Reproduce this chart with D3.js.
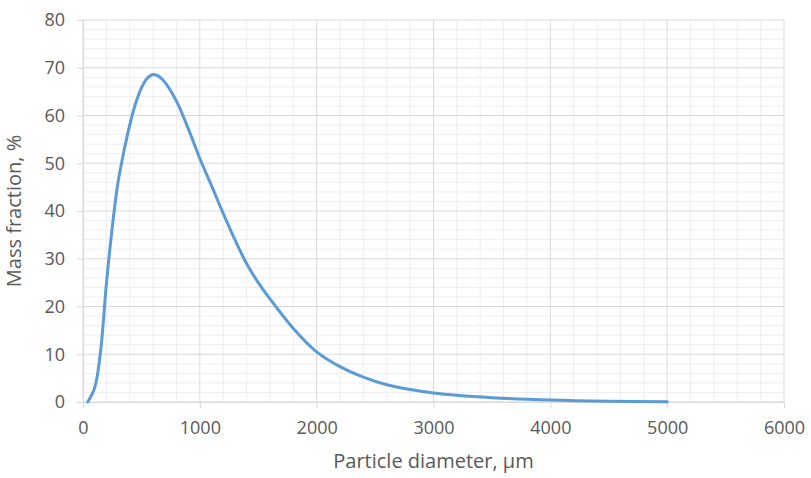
<!DOCTYPE html>
<html>
<head>
<meta charset="utf-8">
<script src="https://cdn.jsdelivr.net/npm/d3@7"></script>
<style>
  body { margin: 0; background: #fff; }
  text { font-family: "Open Sans", sans-serif; fill: #595959; }
</style>
</head>
<body>
<div id="chart"></div>
<script>
// particle size distribution
var diameter = [40, 100, 150, 200, 250, 300, 350, 400, 450, 500, 550, 600, 650, 700, 800, 900, 1000, 1100, 1200, 1300, 1400, 1500, 1600, 1800, 2000, 2200, 2400, 2600, 2800, 3000, 3200, 3500, 4000, 4500, 5000]
var massFraction = [0, 3, 10.5, 24.7, 36.5, 46, 52.5, 58, 62.5, 65.8, 67.8, 68.6, 68.2, 67, 63, 57.3, 51, 45.3, 39.5, 34, 29, 25, 21.6, 15.4, 10.5, 7.4, 5.2, 3.6, 2.6, 1.9, 1.4, 0.9, 0.4, 0.15, 0.05]
var xTicks = [0, 1000, 2000, 3000, 4000, 5000, 6000]
var yTicks = [0, 10, 20, 30, 40, 50, 60, 70, 80]

var margin = {top: 20, right: 27, bottom: 76, left: 83},
    width = 811 - margin.left - margin.right,
    height = 478 - margin.top - margin.bottom

var svg = d3.select("#chart")
  .append("svg")
    .attr("width", 811)
    .attr("height", 478)
  .append("g")
    .attr("transform", "translate(" + margin.left + "," + margin.top + ")")

var x = d3.scaleLinear().domain([0, 6000]).range([0, width])
var y = d3.scaleLinear().domain([0, 80]).range([height, 0])

// minor grid, every 200 um and every 2 %
svg.append("g")
  .selectAll("line")
  .data(d3.range(200, 6000, 200).filter(function(d){ return d % 1000 != 0 }))
  .enter().append("line")
    .attr("x1", function(d){ return x(d) }).attr("x2", function(d){ return x(d) })
    .attr("y1", 0).attr("y2", height)
    .attr("stroke", "#eeeeee")
svg.append("g")
  .selectAll("line")
  .data(d3.range(2, 80, 2).filter(function(d){ return d % 10 != 0 }))
  .enter().append("line")
    .attr("y1", function(d){ return y(d) }).attr("y2", function(d){ return y(d) })
    .attr("x1", 0).attr("x2", width)
    .attr("stroke", "#eeeeee")

// major grid
svg.append("g")
  .selectAll("line")
  .data(xTicks)
  .enter().append("line")
    .attr("x1", function(d){ return x(d) }).attr("x2", function(d){ return x(d) })
    .attr("y1", 0).attr("y2", height)
    .attr("stroke", "#d9d9d9")
svg.append("g")
  .selectAll("line")
  .data(yTicks)
  .enter().append("line")
    .attr("y1", function(d){ return y(d) }).attr("y2", function(d){ return y(d) })
    .attr("x1", 0).attr("x2", width)
    .attr("stroke", "#d9d9d9")

// axes
svg.append("g")
  .attr("transform", "translate(0," + height + ")")
  .call(d3.axisBottom(x).tickValues(xTicks).tickFormat(d3.format("d")).tickSize(6).tickPadding(13))
svg.append("g")
  .call(d3.axisLeft(y).tickValues(yTicks).tickFormat(d3.format("d")).tickSize(6).tickPadding(12))
svg.selectAll(".domain").attr("stroke", "#d9d9d9")
svg.selectAll(".tick line").attr("stroke", "#d9d9d9")
svg.selectAll(".tick text")
  .style("font-family", "'Open Sans', sans-serif")
  .style("font-size", "18px")
  .attr("fill", "#595959")

// curve
var pts = diameter.map(function(d, i){ return [d, massFraction[i]] })
svg.append("path")
  .datum(pts)
  .attr("fill", "none")
  .attr("stroke", "#5b9bd5")
  .attr("stroke-width", 3)
  .attr("stroke-linecap", "round")
  .attr("d", d3.line()
    .x(function(d){ return x(d[0]) })
    .y(function(d){ return y(d[1]) })
    .curve(d3.curveCatmullRom.alpha(0.5)))

// axis titles
svg.append("text")
  .attr("x", width / 2)
  .attr("y", height + 66)
  .attr("text-anchor", "middle")
  .style("font-size", "20px")
  .text("Particle diameter, µm")
svg.append("text")
  .attr("transform", "translate(" + (-62) + "," + (height / 2) + ") rotate(-90)")
  .attr("text-anchor", "middle")
  .style("font-size", "20px")
  .text("Mass fraction, %")
</script>
</body>
</html>
